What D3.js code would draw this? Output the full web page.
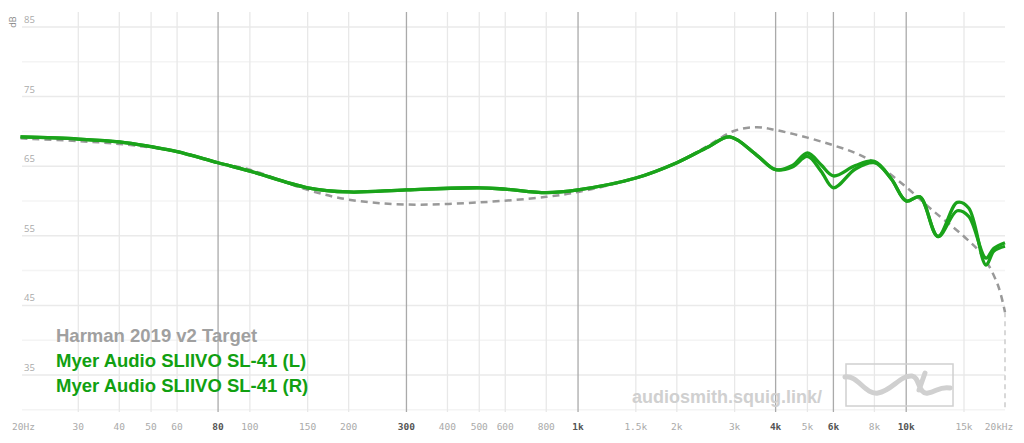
<!DOCTYPE html>
<html><head><meta charset="utf-8">
<script src="https://cdn.jsdelivr.net/npm/d3@7"></script>
<style>body{margin:0;background:#fff}svg{display:block}</style>
</head><body>
<svg id="c" width="1024" height="443"></svg>
<script>
const freqTicks=[20,30,40,50,60,80,100,150,200,300,400,500,600,800,1000,1500,2000,3000,4000,5000,6000,8000,10000,15000,20000];
const tickLabels=["20Hz","30","40","50","60","80","100","150","200","300","400","500","600","800","1k","1.5k","2k","3k","4k","5k","6k","8k","10k","15k","20kHz"];
const majorTicks=[80,300,1000,4000,6000,10000];
const dbTicks=[35,45,55,65,75,85];
const targetF=[20,30,40,60,80,100,150,200,300,500,800,1000,1500,2000,2500,3000,3500,4000,5000,6000,7000,8000,10000,12000,15000,17000,19000,20000];
const targetV=[69.0,68.6,68.2,67.1,65.5,64.5,61.6,60.2,59.5,59.8,60.6,61.3,63.3,65.5,68.0,70.1,70.6,70.2,69.1,68.0,66.9,65.5,62.0,58.7,54.9,52.3,48.0,44.0];
const leftF=[20,30,40,50,60,80,100,150,200,300,500,600,800,1000,1500,2000,2500,2900,3500,4000,4500,5000,5500,6000,7000,8000,9000,10000,11000,12500,14300,15500,17500,18500,20000];
const leftV=[69.2,68.9,68.5,67.8,67.1,65.5,64.3,61.9,61.3,61.6,61.9,61.7,61.2,61.6,63.3,65.5,67.8,69.2,66.6,64.5,64.9,66.4,64.3,61.9,64.6,65.5,63.2,60.0,60.6,54.9,58.6,57.8,51.8,53.2,54.0];
const rightV=[69.2,68.9,68.5,67.8,67.1,65.5,64.3,61.9,61.3,61.6,61.9,61.7,61.2,61.6,63.3,65.5,67.8,69.2,66.6,64.5,65.1,66.9,65.2,63.6,65.1,65.7,63.2,60.0,60.6,54.9,59.8,59.0,50.8,52.8,53.5];

const svg=d3.select("#c");
const x=d3.scaleLog().domain([20,20000]).range([20.5,1005]);
const y=d3.scaleLinear().domain([85,35]).range([27,375]);
const g=svg.append("g");
g.selectAll(".hg").data([30,35,40,45,50,55,60,65,70,75,80,85]).join("line")
 .attr("x1",22).attr("x2",1005).attr("y1",d=>y(d)).attr("y2",d=>y(d))
 .attr("stroke",d=>d%10===5?"#eaeaea":"#f4f4f4").attr("stroke-width",1.5);
g.selectAll(".vg").data(freqTicks.slice(1,-1)).join("line")
 .attr("x1",d=>x(d)).attr("x2",d=>x(d)).attr("y1",12).attr("y2",412)
 .attr("stroke",d=>majorTicks.includes(d)?"#aaa":"#e8e8e8").attr("stroke-width",1.3);
g.selectAll(".xl").data(freqTicks).join("text")
 .attr("x",(d,i)=>i===0?x(d)+3:i===freqTicks.length-1?x(d)-6:x(d)).attr("y",430)
 .attr("text-anchor","middle").attr("font-family","DejaVu Sans Mono").attr("font-size",9.5)
 .attr("fill",d=>majorTicks.includes(d)?"#555":"#aaa").attr("font-weight",d=>majorTicks.includes(d)?"bold":"normal")
 .text((d,i)=>tickLabels[i]);
g.selectAll(".yl").data(dbTicks).join("text")
 .attr("x",24).attr("y",d=>y(d)-4).attr("font-family","Open Sans").attr("font-size",9.5)
 .attr("fill","#aaa").text(d=>d);
svg.append("text").attr("transform","translate(16,22) rotate(-90)").attr("font-family","Open Sans")
 .attr("font-size",9).attr("fill","#888").attr("text-anchor","middle").text("dB");
svg.append("text").attr("x",632).attr("y",403).attr("font-family","Liberation Sans").attr("font-weight","bold")
 .attr("font-size",18).attr("fill","#d0d0d0").text("audiosmith.squig.link/");
svg.append("rect").attr("x",846).attr("y",364).attr("width",107).attr("height",42).attr("fill","none").attr("stroke","#d0d0d0").attr("stroke-width",1.5);
svg.append("path").attr("d","M845,377 C858,375 865,395 878,393 C892,391 900,375 912,376 C920,377 918,395 928,393 C936,392 940,386 950,388 M925,373 L919,390")
 .attr("fill","none").attr("stroke","#d0d0d0").attr("stroke-width",5).attr("stroke-linecap","round");
const line=d3.line().x(d=>x(d[0])).y(d=>y(d[1])).curve(d3.curveCatmullRom.alpha(0.5));
const tpts=targetF.map((f,i)=>[f,targetV[i]]);
svg.append("path").attr("d",line(tpts)).attr("fill","none").attr("stroke","#999").attr("stroke-width",2.5).attr("stroke-dasharray","7,5");
svg.append("line").attr("x1",x(20000)).attr("x2",x(20000)).attr("y1",y(44)).attr("y2",y(30)).attr("stroke","#ccc").attr("stroke-width",1.5).attr("stroke-dasharray","5,4");
[leftV,rightV].forEach(v=>{
 svg.append("path").attr("d",line(leftF.map((f,i)=>[f,v[i]]))).attr("fill","none").attr("stroke","#1aa31a").attr("stroke-width",3.3);
});
const leg=[["Harman 2019 v2 Target","#a0a0a0"],["Myer Audio SLIIVO SL-41 (L)","#11a011"],["Myer Audio SLIIVO SL-41 (R)","#11a011"]];
svg.selectAll(".lg").data(leg).join("text").attr("x",56).attr("y",(d,i)=>342+i*25)
 .attr("font-family","Liberation Sans").attr("font-weight","bold").attr("font-size",18.5)
 .attr("fill",d=>d[1]).text(d=>d[0]);
</script>
</body></html>
